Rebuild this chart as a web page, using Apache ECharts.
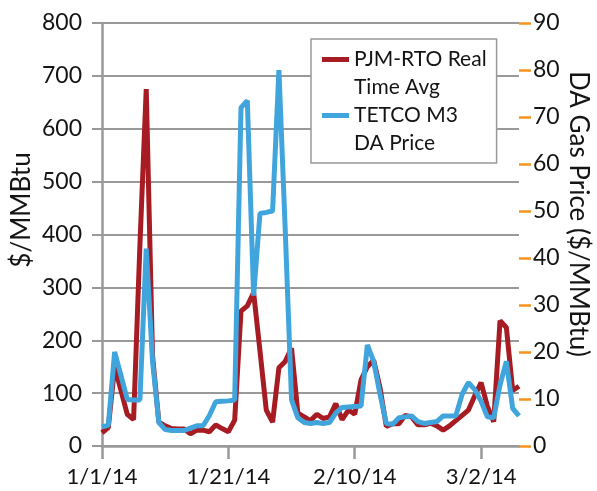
<!DOCTYPE html>
<html>
<head>
<meta charset="utf-8">
<script src="https://cdn.jsdelivr.net/npm/echarts@6/dist/echarts.min.js"></script>
<style>
  html, body { margin: 0; padding: 0; background: #fff; }
  #chart { width: 597px; height: 491px; }
</style>
</head>
<body>
<div id="chart"></div>
<script>
const days = [
  '1/1/14','1/2/14','1/3/14','1/4/14','1/5/14','1/6/14','1/7/14','1/8/14','1/9/14','1/10/14',
  '1/11/14','1/12/14','1/13/14','1/14/14','1/15/14','1/16/14','1/17/14','1/18/14','1/19/14','1/20/14',
  '1/21/14','1/22/14','1/23/14','1/24/14','1/25/14','1/26/14','1/27/14','1/28/14','1/29/14','1/30/14',
  '1/31/14','2/1/14','2/2/14','2/3/14','2/4/14','2/5/14','2/6/14','2/7/14','2/8/14','2/9/14',
  '2/10/14','2/11/14','2/12/14','2/13/14','2/14/14','2/15/14','2/16/14','2/17/14','2/18/14','2/19/14',
  '2/20/14','2/21/14','2/22/14','2/23/14','2/24/14','2/25/14','2/26/14','2/27/14','2/28/14','3/1/14',
  '3/2/14','3/3/14','3/4/14','3/5/14','3/6/14','3/7/14','3/8/14'
]

// PJM-RTO real time average (left axis)
const pjmRT = [
  25, 35, 150, 105, 60, 50, 380, 675, 170, 45,
  38, 33, 32, 32, 23, 30, 30, 27, 40, 33,
  27, 49, 255, 265, 290, 180, 68, 45, 148, 160,
  185, 62, 55, 48, 60, 52, 55, 80, 50, 68,
  60, 125, 150, 162, 110, 37, 42, 42, 58, 55,
  40, 40, 43, 38, 30, 38, 48, 58, 68, 95,
  120, 75, 46, 237, 224, 105, 113
]

// TETCO M3 day-ahead gas price (right axis)
const tetcoM3 = [
  4.1, 4.4, 20, 15, 9.9, 9.8, 9.8, 42, 18, 5.0,
  3.5, 3.3, 3.3, 3.3, 3.8, 4.3, 4.3, 6.5, 9.4, 9.5,
  9.6, 9.8, 72, 73.5, 32, 49.5, 49.7, 50, 80, 46,
  9.8, 6, 5, 4.8, 5, 4.8, 5.0, 7, 8.2, 8.3,
  8.4, 8.5, 21.5, 18, 11, 4.8, 4.6, 6.0, 6.2, 6.4,
  5.2, 4.8, 5.0, 5.2, 6.4, 6.4, 6.4, 11, 13.5, 12,
  9.5, 6.2, 6.0, 13, 18, 8, 6.4
]

const font = 'Lato'
const grey = '#999999'
const ink = '#141414'

let chart = echarts.init(document.getElementById('chart'))

chart.setOption({
  animation: false,
  textStyle: { fontFamily: font },
  grid: { left: 102, right: 78, top: 23, bottom: 45 },
  legend: {
    orient: 'vertical',
    left: 311,
    top: 39,
    padding: [6, 10, 6, 11],
    itemGap: 0,
    itemWidth: 27,
    itemHeight: 56,
    icon: 'path://M0,12H27V17H0Z M0,0H27Z M0,56H27Z',
    itemStyle: { borderWidth: 0 },
    backgroundColor: '#fff',
    borderColor: grey,
    borderWidth: 1.5,
    textStyle: { fontFamily: font, fontSize: 21, lineHeight: 28, color: ink },
    data: ['PJM-RTO Real\nTime Avg', 'TETCO M3\nDA Price']
  },
  xAxis: {
    type: 'category',
    data: days,
    boundaryGap: false,
    axisLine: { lineStyle: { color: grey, width: 2.5 } },
    axisTick: { interval: 19, length: 13, lineStyle: { color: grey, width: 2.5 } },
    axisLabel: { interval: 19, margin: 20, fontSize: 22, color: ink, fontFamily: font },
    splitLine: { show: false }
  },
  yAxis: [
    {
      type: 'value',
      min: 0, max: 800, interval: 100,
      axisLine: { show: true, lineStyle: { color: grey, width: 2.5 } },
      axisTick: { show: true, length: 10, lineStyle: { color: grey, width: 2 } },
      axisLabel: { margin: 20, fontSize: 23, color: ink, fontFamily: font },
      splitLine: { lineStyle: { color: grey, width: 2 } }
    },
    {
      type: 'value',
      min: 0, max: 90, interval: 10,
      axisLine: { show: false },
      axisTick: { show: true, length: 12, lineStyle: { color: '#f7931e', width: 2.5 } },
      axisLabel: { margin: 14, fontSize: 23, color: ink, fontFamily: font },
      splitLine: { show: false }
    }
  ],
  graphic: [
    {
      type: 'text', x: 22, y: 210, rotation: Math.PI / 2,
      style: { text: '$/MMBtu', font: '26px ' + font, fill: ink, align: 'center', verticalAlign: 'middle' }
    },
    {
      type: 'text', x: 578, y: 214, rotation: -Math.PI / 2,
      style: { text: 'DA Gas Price ($/MMBtu)', font: '26px ' + font, fill: ink, align: 'center', verticalAlign: 'middle' }
    }
  ],
  series: [
    {
      name: 'PJM-RTO Real\nTime Avg',
      type: 'line',
      yAxisIndex: 0,
      data: pjmRT,
      showSymbol: false,
      color: '#a61c22',
      lineStyle: { width: 5, color: '#a61c22' }
    },
    {
      name: 'TETCO M3\nDA Price',
      type: 'line',
      yAxisIndex: 1,
      data: tetcoM3,
      showSymbol: false,
      color: '#41a5dd',
      lineStyle: { width: 5, color: '#41a5dd' }
    }
  ]
})
</script>
</body>
</html>
